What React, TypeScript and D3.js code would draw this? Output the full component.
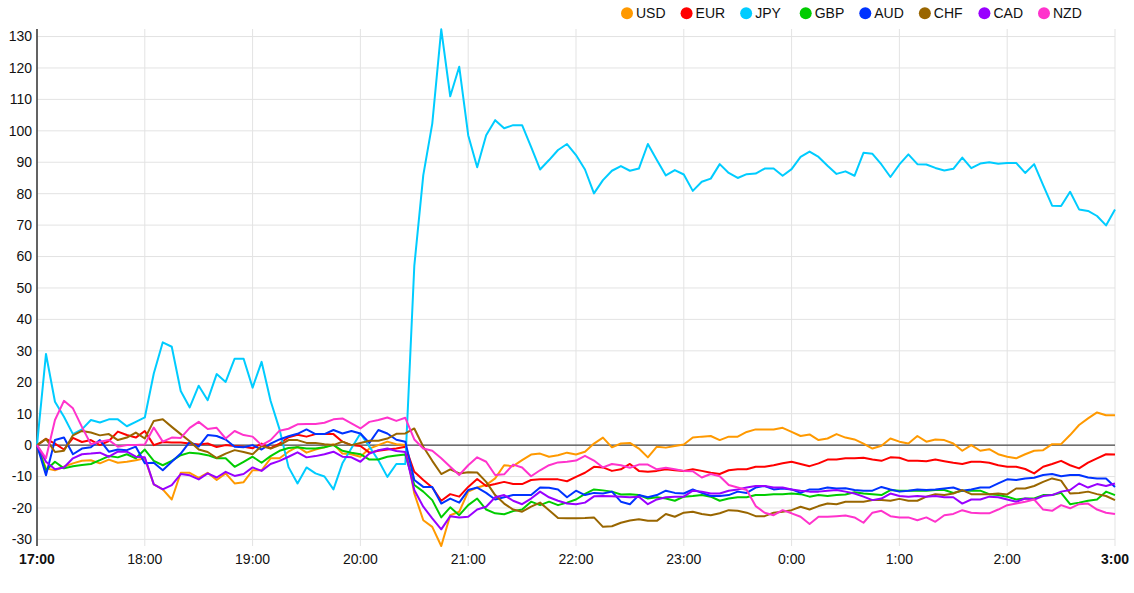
import React from 'react';
import * as d3 from 'd3';

// currency strength, 5-minute steps from 17:00 to 3:00
const currencies = ['USD', 'EUR', 'JPY', 'GBP', 'AUD', 'CHF', 'CAD', 'NZD'];
const colors = ['#ff9900', '#ff0000', '#00ccff', '#00cc00', '#0033ff', '#996600', '#9900ff', '#ff33cc'];
const hourLabels = ['17:00', '18:00', '19:00', '20:00', '21:00', '22:00', '23:00', '0:00', '1:00', '2:00', '3:00'];
const yTicks = [-30, -20, -10, 0, 10, 20, 30, 40, 50, 60, 70, 80, 90, 100, 110, 120, 130];

const USD = [
    0, -7.4, -8, -6.9, -5.8, -5, -4.8, -5.8, -4.6, -5.6, -5.3, -4.8, -4.2, -12.5, -14.1, -17.3, -8.8, -8.8, -10.4, -8.8,
    -11.1, -9, -12.2, -11.8, -8, -8, -4.2, -4.2, -2.1, -0.5, -2.4, -1.4, -0.7, 0.3, -2.7, -2.9, -3.7, -1.1, 0, 1.1,
    0.3, 0, -15.4, -23.9, -26, -32.1, -22.3, -21.2, -14.8, -13.5, -12.7, -10.6, -6.4, -6.7, -4.8, -3, -2.7, -3.7, -3.2, -2.4,
    -3, -2.1, 0.5, 2.4, -0.7, 0.5, 0.7, -1.1, -3.9, -0.5, -0.8, -0.3, 0.2, 2.4, 2.7, 2.9, 1.6, 2.7, 2.7, 4.2,
    5, 5, 5, 5.5, 4.2, 2.9, 3.4, 1.6, 2.1, 3.5, 2.4, 1.8, 0.5, -1.1, -0.2, 2.1, 1.1, 0.5, 2.9, 1.1,
    1.8, 1.6, 0.5, -1.8, 0, -1.8, -1.3, -2.9, -3.7, -4.2, -2.9, -1.8, -1.6, 0.3, 0.3, 3.2, 6.4, 8.5, 10.4, 9.5, 9.5,
];
const EUR = [
    0, 2, 0.5, -1.4, 2.3, 1, 1.6, 0, 1.3, 4.3, 3.2, 2.4, 4.5, 0, 1, 0.8, 0.8, 0.5, 0.2, 0.5,
    -0.6, 0, -0.3, -0.5, -1, 0.5, -1, 0.5, 2.5, 3.3, 2.7, 3.5, 3.5, 3.5, 1.1, 0, -0.3, -2.4, -1.8, -1.4,
    -1.1, -0.5, -8.5, -11.1, -13.5, -17.7, -15.6, -16.4, -13.3, -10.8, -13, -12.4, -11.7, -12.4, -12.4, -11.1, -10.9, -10.9, -10.9, -11.5,
    -10.1, -8.8, -6.9, -7.1, -8.2, -7.7, -6, -8.2, -8.5, -8.2, -7.7, -8, -8.2, -7.7, -8.2, -8.8, -9.2, -8, -7.7, -7.7,
    -6.9, -6.9, -6.4, -5.8, -5.3, -6, -6.7, -5.8, -4.6, -4.6, -4.2, -4.2, -4, -4.6, -5, -3.9, -4, -5, -5, -5.1,
    -4.6, -5.1, -5.6, -6, -5.3, -5.3, -5.6, -6.4, -6.9, -6.9, -7.6, -9, -6.9, -6, -5, -6.4, -7.4, -5.6, -4.2, -2.9, -3,
];
const JPY = [
    0, 29, 13.8, 9, 3.5, 5, 8, 7.2, 8.2, 8.2, 6, 7.4, 8.8, 22.8, 32.7, 31.3, 17.2, 12, 18.9, 14.3,
    22.6, 20.1, 27.5, 27.5, 18.3, 26.5, 14.1, 5, -7, -12.2, -7.1, -9, -10, -14.1, -5.8, -1, 3.7, -0.5, -4.8, -10.1,
    -6, -6, 57, 85.9, 102.3, 132.3, 111, 120.4, 98.6, 88.4, 98.6, 103.4, 100.8, 101.8, 101.8, 94.9, 87.7, 90.7, 93.9, 95.8,
    92.3, 87.7, 80.1, 84.3, 87.3, 88.8, 87.3, 88, 95.8, 90.7, 85.8, 87.5, 86.1, 80.9, 83.8, 84.8, 89.4, 86.6, 85, 86.2,
    86.4, 88, 88, 85.7, 87.8, 91.7, 93.4, 91.7, 88.9, 86.3, 87.1, 85.7, 93, 92.7, 89.3, 85.3, 89.3, 92.5, 89.4, 89.3,
    88.2, 87.4, 87.9, 91.5, 88.1, 89.6, 90, 89.5, 89.8, 89.8, 86.6, 89.4, 82.7, 76.2, 76.1, 80.6, 75, 74.5, 72.9, 69.9, 75,
];
const GBP = [
    0, -8, -5.3, -7.4, -6.7, -6.3, -6, -4.8, -3.5, -3.9, -2.9, -4.2, -1.4, -5, -6.4, -5, -3.2, -2.4, -2.7, -3.2,
    -4.2, -4.2, -6.9, -5.3, -3.7, -5.6, -3.5, -1.8, -0.9, -0.7, -1.1, -1.1, -0.7, 0, -1.8, -2.4, -2.9, -4.6, -4.6, -3.7,
    -3.3, -3, -12.7, -14.8, -17.5, -23, -19.8, -22.3, -19.1, -17, -20.5, -21.7, -22, -21, -20.5, -18, -19.1, -18, -19.1, -18.3,
    -17.3, -15.5, -14.1, -14.4, -14.8, -15.7, -15.6, -15.9, -17, -16.6, -17, -17.7, -16.4, -16.2, -15.9, -16.4, -17.7, -17, -16.6, -16.6,
    -15.9, -15.9, -15.6, -15.6, -15.4, -15.6, -16.4, -15.9, -16.2, -15.9, -15.7, -15, -15.4, -15.6, -15.9, -14.3, -14.5, -14.5, -14.5, -14.5,
    -14.3, -14.3, -15.2, -14.5, -14.5, -14.5, -15.6, -15.9, -16.4, -17.3, -17, -17, -15.9, -15.9, -15.2, -18.8, -18.3, -17.7, -17.3, -14.8, -15.9,
];
const AUD = [
    0, -9.6, 1.6, 2.4, -2.9, -1.1, -0.7, 1.6, -2.1, -1.4, -1.6, -0.5, -5.8, -5.6, -8, -5.3, -2.7, 1, -0.5, 3.2,
    2.9, 1.8, -0.5, -0.7, 0, -1.4, 0.5, 1.8, 2.8, 3.6, 5, 3.5, 3.5, 4.8, 3.7, 4.5, 3.7, 0.7, 4.8, 3.7,
    1.7, 1.1, -11.1, -13.3, -13.3, -18.6, -17, -18.3, -14.3, -13.5, -15.2, -17.3, -16.6, -15.9, -15.9, -15.9, -13.5, -13.6, -14.1, -16.6,
    -14.5, -15.9, -15.2, -15.4, -14.8, -18, -18.8, -15.9, -16.6, -15.9, -14.5, -15.2, -15.4, -14.1, -15.2, -16.2, -16.2, -15.9, -14.8, -15.2,
    -13.5, -13, -14.1, -13.8, -14.1, -15.2, -14.1, -14.1, -13.5, -13.8, -13.7, -14.3, -14.5, -14.5, -13.3, -14.1, -14.8, -14.5, -14.1, -14.3,
    -14.1, -13.8, -13.5, -14.5, -14.1, -13.5, -13.5, -12.2, -10.9, -11.1, -10.6, -10.4, -9.5, -9.2, -9.9, -9.5, -9.5, -10.3, -10.6, -10.6, -13.3,
];
const CHF = [
    0, 2, -2.2, -1.8, 3.1, 4.5, 4, 3.1, 3.5, 1.6, 2.4, 4, 2.1, 7.7, 8.2, 5.8, 3.5, 1.2, -1.4, -2.2,
    -4.1, -2.7, -1.6, -2.2, -2.9, -0.3, -1.1, 0, 1.6, 1.6, 0.7, 0.7, 0.3, 0, 1.1, 0, 0.7, 1.4, 1.4, 2.1,
    3.6, 3.7, 5.3, -0.5, -5, -9.2, -7.7, -9, -8.6, -8.7, -11.7, -15.9, -18.6, -20.5, -21.2, -19.6, -18.3, -20.7, -23.2, -23.3,
    -23.3, -23.2, -23, -26, -25.8, -24.7, -24, -23.6, -24.1, -24.1, -21.9, -22.8, -21.5, -21.2, -21.9, -22.3, -21.7, -20.7, -20.9, -21.5,
    -22.6, -22.6, -21.5, -21.2, -20.7, -19.6, -20.5, -19.4, -18.6, -18.8, -18, -18, -18, -17.5, -17.5, -17.7, -17.1, -17.7, -17.7, -16.4,
    -15.6, -15.9, -15.4, -14.3, -15.6, -15.6, -15.6, -15.4, -15.7, -13.8, -13.8, -13, -11.7, -10.6, -11.3, -15.4, -15.2, -14.8, -15.6, -16.2, -17.5,
];
const CAD = [
    0, -5.3, -7.7, -7.1, -4.2, -2.9, -2.7, -2.4, -3.7, -2.1, -2.1, -3.7, -3.9, -12.5, -14.1, -12.7, -9.2, -9.6, -10.9, -9,
    -10.3, -8.5, -9.8, -9.2, -7.1, -8.2, -6, -5, -3.7, -2.3, -3.9, -3.5, -2.9, -2.1, -3.7, -3.9, -5.3, -2.7, -1.6, -1.1,
    -1.9, -2.2, -14.3, -19.6, -23.3, -26.8, -22.6, -23, -22.8, -20.5, -19.6, -16.6, -15.9, -17.7, -18.8, -17, -14.8, -16.6, -17.7, -18.6,
    -18.8, -18.3, -16.3, -16.2, -16.3, -16.4, -16.6, -16.4, -18.8, -17.3, -16.6, -16.4, -16.4, -14.5, -14.8, -15.4, -15.4, -14.5, -14.1, -13.5,
    -13, -13, -13.5, -13.5, -14.1, -14.5, -14.8, -14.8, -14.5, -14.3, -14.8, -15.4, -16.4, -17.5, -17, -15.4, -16.2, -16.4, -16.2, -16.4,
    -16.2, -16.6, -16.6, -18.6, -17.3, -17.3, -16.4, -16.6, -17.3, -18, -17, -17.3, -16.2, -15.9, -14.8, -14.3, -12.2, -13.5, -12.4, -13, -12.2,
];
const NZD = [
    0, -4.2, 8, 14.1, 11.7, 5.8, 0.3, 1.1, 1.6, -0.5, 0, 0, 0.2, 5.6, 1.1, 2.4, 2.3, 5.5, 7.4, 5.1,
    5.5, 2.1, 4.5, 3.2, 2.7, 0, 1.6, 4.6, 5.2, 6.6, 6.7, 6.7, 7.1, 8.2, 8.5, 6.9, 5.3, 7.4, 8, 8.8,
    7.7, 8.7, 1.8, -1.1, -1.8, -4.2, -6.9, -9.5, -6.4, -3.9, -5.3, -9.5, -9.3, -6.2, -7.1, -9.9, -8, -6.4, -5.5, -5.3,
    -4.9, -3.4, -4.9, -7.1, -6, -6.4, -7.2, -6.2, -6.2, -7.7, -7.2, -7.7, -8.2, -8.3, -10.3, -9.2, -9.9, -12.7, -13.5, -14.3,
    -19.4, -21.5, -22.3, -20.7, -21.7, -22.8, -25.1, -22.8, -22.8, -22.6, -22.4, -23, -24.7, -21.5, -20.9, -22.6, -23, -23, -23.9, -23,
    -24.4, -22.3, -21.9, -20.7, -21.5, -21.7, -21.7, -20.5, -19.1, -18.6, -18, -17.3, -20.5, -20.9, -19.1, -20.1, -18.8, -18.6, -20.5, -21.5, -21.9,
];

const seriesValues = [USD, EUR, JPY, GBP, AUD, CHF, CAD, NZD];

const startTime = new Date(2024, 0, 1, 17, 0);
const endTime = new Date(2024, 0, 2, 3, 0);
const stepMs = 5 * 60 * 1000;

const W = 1134;
const H = 593;
const margin = { top: 29, right: 19, bottom: 47, left: 37 };

const App: React.FC = () => {
    const x = d3.scaleTime().domain([startTime, endTime]).range([margin.left, W - margin.right]);
    const y = d3.scaleLinear().domain([-32.1, 132.4]).range([H - margin.bottom, margin.top]);

    const line = d3
        .line<number>()
        .x((_, i) => x(new Date(startTime.getTime() + i * stepMs)))
        .y((d) => y(d));

    const hourTicks = x.ticks(d3.timeHour.every(1)!);
    const legendX = d3.scaleLinear().domain([0, currencies.length - 1]).range([627, 1044]);

    const font = '"Liberation Sans", Arial, sans-serif';

    return (
        <svg width={W} height={H} style={{ position: 'absolute', left: 0, top: 0, fontFamily: font }}>
            <rect width={W} height={H} fill="#fff" />
            {/* сетка */}
            {yTicks.map((t) => (
                <line key={'gy' + t} x1={margin.left} x2={W - margin.right} y1={y(t)} y2={y(t)} stroke="#e3e3e3" strokeWidth={1} />
            ))}
            {hourTicks.map((t, i) => (
                <line key={'gx' + i} x1={x(t)} x2={x(t)} y1={margin.top} y2={H - margin.bottom} stroke="#e3e3e3" strokeWidth={1} />
            ))}
            <line x1={margin.left} x2={W - margin.right} y1={y(0)} y2={y(0)} stroke="#222" strokeWidth={1} />
            <line x1={margin.left} x2={margin.left} y1={margin.top} y2={H - margin.bottom} stroke="#333" strokeWidth={1.5} />

            {yTicks.map((t) => (
                <text key={'ly' + t} x={margin.left - 5} y={y(t)} dy="0.35em" textAnchor="end" fontSize={14} fill="#111">
                    {t}
                </text>
            ))}
            {hourTicks.map((t, i) => (
                <text
                    key={'lx' + i}
                    x={x(t)}
                    y={564}
                    textAnchor="middle"
                    fontSize={14}
                    fontWeight={i === 0 || i === hourTicks.length - 1 ? 'bold' : 'normal'}
                    fill="#111"
                >
                    {hourLabels[i]}
                </text>
            ))}

            {seriesValues.map((vals, k) => (
                <path key={currencies[k]} d={line(vals) || ''} fill="none" stroke={colors[k]} strokeWidth={2} strokeLinejoin="round" />
            ))}

            {/* легенда */}
            {currencies.map((c, k) => (
                <g key={'lg' + c} transform={`translate(${legendX(k)},13.3)`}>
                    <circle r={6} fill={colors[k]} />
                    <text x={9} y={5} fontSize={14} fill="#111">
                        {c}
                    </text>
                </g>
            ))}
        </svg>
    );
};

export default App;
